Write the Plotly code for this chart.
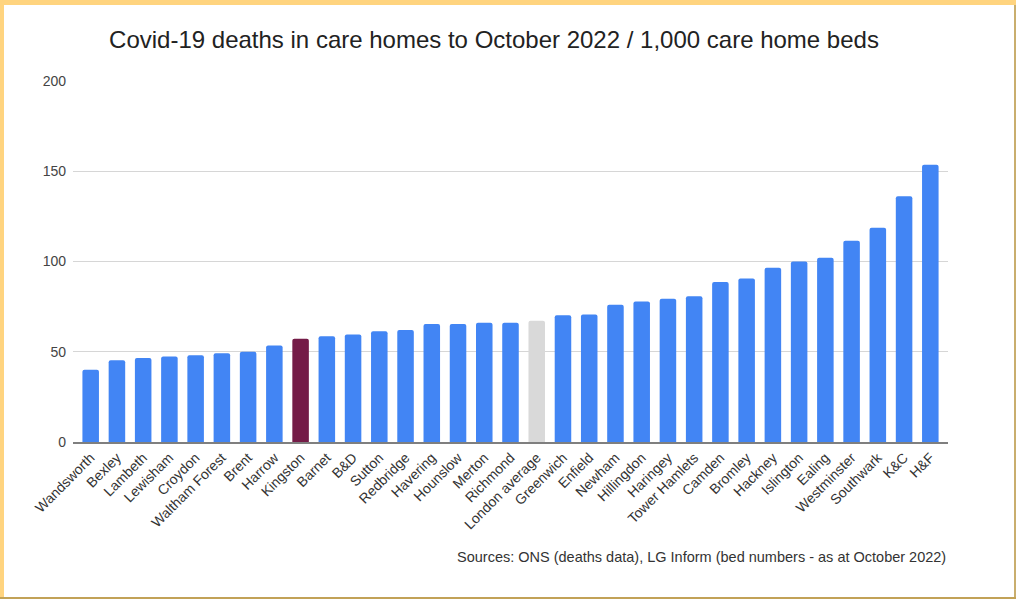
import plotly.graph_objects as go

# Covid-19 care home deaths per 1,000 care home beds, London boroughs (to October 2022)
boroughs = [
    "Wandsworth", "Bexley", "Lambeth", "Lewisham", "Croydon", "Waltham Forest",
    "Brent", "Harrow", "Kingston", "Barnet", "B&D", "Sutton", "Redbridge",
    "Havering", "Hounslow", "Merton", "Richmond", "London average", "Greenwich",
    "Enfield", "Newham", "Hillingdon", "Haringey", "Tower Hamlets", "Camden",
    "Bromley", "Hackney", "Islington", "Ealing", "Westminster", "Southwark",
    "K&C", "H&F",
]
deaths_per_1000_beds = [
    40.0, 45.3, 46.5, 47.3, 48.0, 49.1,
    50.0, 53.4, 57.2, 58.6, 59.5, 61.3, 62.0,
    65.4, 65.4, 66.1, 66.1, 67.2, 70.2,
    70.7, 76.0, 77.9, 79.4, 80.7, 88.6,
    90.6, 96.6, 100.0, 102.1, 111.5, 118.7,
    136.1, 153.6,
]
y_ticks = [0, 50, 100, 150, 200]

BASE_COLOR = "#4285F4"
special_colors = {"Kingston": "#741B47", "London average": "#D9D9D9"}
bar_colors = [special_colors.get(b, BASE_COLOR) for b in boroughs]

# Page geometry
W, H = 1016, 599
ML, MR, MT, MB = 73, 68, 81, 157
PW, PH = W - ML - MR, H - MT - MB


def px_x(x):
    return (x - ML) / PW


def px_y(y):
    return (H - MB - y) / PH


FONT = "Liberation Sans, Arial, Helvetica, sans-serif"

fig = go.Figure(
    go.Bar(
        x=boroughs,
        y=deaths_per_1000_beds,
        marker=dict(color=bar_colors, line=dict(width=0), cornerradius=2),
        hovertemplate="%{x}: %{y:.1f}<extra></extra>",
    )
)

n = len(boroughs)
pad = 0.674

fig.update_layout(
    width=W,
    height=H,
    margin=dict(l=ML, r=MR, t=MT, b=MB, pad=0),
    paper_bgcolor="#FFD47F",
    plot_bgcolor="white",
    bargap=0.37,
    showlegend=False,
    font=dict(family=FONT, size=14, color="#333333"),
    title=dict(
        text="Covid-19 deaths in care homes to October 2022 / 1,000 care home beds",
        font=dict(family=FONT, size=24, color="#222222"),
        x=494 / W,
        xanchor="center",
        xref="container",
        y=1 - 40 / H,
        yanchor="middle",
        yref="container",
    ),
    xaxis=dict(
        type="category",
        range=[-pad, n - 1 + pad],
        tickangle=-45,
        ticks="",
        showgrid=False,
        showline=True,
        linecolor="#7f7f7f",
        linewidth=2,
        automargin=False,
        tickfont=dict(family=FONT, size=14, color="#333333"),
    ),
    yaxis=dict(
        range=[0, 200],
        tickvals=y_ticks,
        ticks="",
        showgrid=True,
        gridcolor="#d6d6d6",
        gridwidth=1,
        zeroline=False,
        showline=False,
        automargin=False,
        ticklabelstandoff=6,
        tickfont=dict(family=FONT, size=14, color="#444444"),
    ),
    shapes=[
        # white card inside the yellow frame
        dict(
            type="rect", xref="paper", yref="paper", layer="below",
            x0=px_x(4), x1=px_x(1014), y0=px_y(597), y1=px_y(5),
            fillcolor="white", line=dict(width=0),
        ),
        # darker bottom edge of the frame
        dict(
            type="rect", xref="paper", yref="paper", layer="below",
            x0=px_x(0), x1=px_x(1016), y0=px_y(599), y1=px_y(597),
            fillcolor="#C2A257", line=dict(width=0),
        ),
        # thin right edge
        dict(
            type="rect", xref="paper", yref="paper", layer="below",
            x0=px_x(1014), x1=px_x(1016), y0=px_y(597), y1=px_y(5),
            fillcolor="#C9AE6E", line=dict(width=0),
        ),
    ],
    annotations=[
        dict(
            text="Sources: ONS (deaths data), LG Inform (bed numbers - as at October 2022)",
            xref="paper", yref="paper",
            x=px_x(948), y=px_y(557),
            xanchor="right", yanchor="middle",
            showarrow=False,
            font=dict(family=FONT, size=14.5, color="#333333"),
        )
    ],
)

fig.write_html("out.html")
